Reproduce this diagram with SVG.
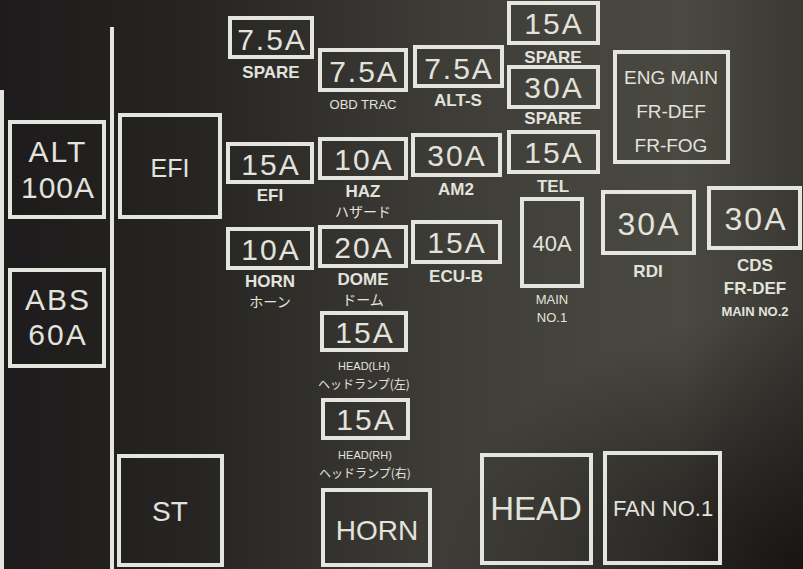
<svg xmlns="http://www.w3.org/2000/svg" width="803" height="569" viewBox="0 0 803 569">
<defs>
<linearGradient id="bg" x1="0" y1="0" x2="1" y2="0">
<stop offset="0" stop-color="#1d1b1b"/>
<stop offset="0.25" stop-color="#272523"/>
<stop offset="0.55" stop-color="#3e3c37"/>
<stop offset="0.85" stop-color="#4a4941"/>
<stop offset="1" stop-color="#3a3833"/>
</linearGradient>
<radialGradient id="shade" cx="1" cy="1" r="0.45">
<stop offset="0" stop-color="#121111" stop-opacity="0.9"/>
<stop offset="1" stop-color="#121111" stop-opacity="0"/>
</radialGradient>
<style>
.box{fill:none;stroke:#e4e5de;stroke-width:4}
.ln{stroke:#e4e5de;stroke-width:4;fill:none}
text{font-family:"Liberation Sans","Noto Sans CJK JP",sans-serif;fill:#e2e3dc;text-anchor:middle}
.amp{font-size:30px;letter-spacing:2px}
.lbl{font-size:17px;font-weight:bold}
.sm{font-size:13px}
.jp{font-size:14px;font-family:"Noto Sans CJK JP",sans-serif}
</style>
</defs>
<rect width="803" height="569" fill="url(#bg)"/>
<rect width="803" height="569" fill="url(#shade)"/>
<g id="connectors">
<line class="ln" x1="112" y1="27" x2="112" y2="569"/>
<line class="ln" x1="2" y1="90" x2="2" y2="569"/>
</g>
<g id="alt"><rect class="box" x="10" y="122" width="94" height="95"/><text class="amp" x="58" y="162">ALT</text><text class="amp" x="58" y="198" style="letter-spacing:1px">100A</text></g>
<g id="abs"><rect class="box" x="10" y="270" width="94" height="96"/><text class="amp" x="58" y="310">ABS</text><text class="amp" x="58" y="345">60A</text></g>
<g id="efi-main"><rect class="box" x="120" y="115" width="100" height="102"/><text x="170" y="177" style="font-size:25px">EFI</text></g>
<g id="st"><rect class="box" x="119" y="456" width="103" height="109"/><text x="170" y="521" style="font-size:28px">ST</text></g>
<g id="spare1"><rect class="box" x="230" y="18" width="82" height="39"/><text class="amp" x="272" y="50">7.5A</text><text class="lbl" x="271" y="78">SPARE</text></g>
<g id="obd"><rect class="box" x="320" y="50" width="86" height="40"/><text class="amp" x="364" y="82">7.5A</text><text class="sm" x="363" y="109">OBD TRAC</text></g>
<g id="alts"><rect class="box" x="415" y="47" width="87" height="39"/><text class="amp" x="459" y="79">7.5A</text><text class="lbl" x="458" y="106">ALT-S</text></g>
<g id="spare2"><rect class="box" x="509" y="3" width="89" height="40"/><text class="amp" x="554" y="34">15A</text><text class="lbl" x="553" y="63">SPARE</text></g>
<g id="spare3"><rect class="box" x="509" y="67" width="89" height="40"/><text class="amp" x="554" y="98">30A</text><text class="lbl" x="553" y="124">SPARE</text></g>
<g id="tel"><rect class="box" x="509" y="132" width="89" height="40"/><text class="amp" x="554" y="163">15A</text><text class="lbl" x="553" y="192">TEL</text></g>
<g id="engmain"><rect class="box" x="615" y="52" width="113" height="110"/><text x="671" y="84" style="font-size:19px">ENG MAIN</text><text x="671" y="118" style="font-size:19px">FR-DEF</text><text x="671" y="152" style="font-size:19px">FR-FOG</text></g>
<g id="efi"><rect class="box" x="228" y="144" width="84" height="38"/><text class="amp" x="271" y="175">15A</text><text class="lbl" x="270" y="201">EFI</text></g>
<g id="haz"><rect class="box" x="320" y="139" width="86" height="39"/><text class="amp" x="364" y="170">10A</text><text class="lbl" x="363" y="197">HAZ</text><text class="jp" x="363" y="217">ハザード</text></g>
<g id="am2"><rect class="box" x="413" y="135" width="87" height="40"/><text class="amp" x="457" y="166">30A</text><text class="lbl" x="456" y="195">AM2</text></g>
<g id="horn"><rect class="box" x="228" y="229" width="84" height="39"/><text class="amp" x="271" y="260">10A</text><text class="lbl" x="270" y="287">HORN</text><text class="jp" x="270" y="307">ホーン</text></g>
<g id="dome"><rect class="box" x="320" y="227" width="86" height="39"/><text class="amp" x="364" y="258">20A</text><text class="lbl" x="363" y="285">DOME</text><text class="jp" x="363" y="305">ドーム</text></g>
<g id="ecub"><rect class="box" x="413" y="222" width="87" height="40"/><text class="amp" x="457" y="253">15A</text><text class="lbl" x="456" y="282">ECU-B</text></g>
<g id="main1"><rect class="box" x="522" y="199" width="60" height="87"/><text x="552" y="251" style="font-size:22px">40A</text><text class="sm" x="552" y="304">MAIN</text><text class="sm" x="552" y="322">NO.1</text></g>
<g id="rdi"><rect class="box" x="603" y="192" width="91" height="61"/><text x="649" y="235" style="font-size:32px;letter-spacing:2px">30A</text><text class="lbl" x="648" y="277">RDI</text></g>
<g id="cds"><rect class="box" x="709" y="188" width="91" height="60"/><text x="756" y="230" style="font-size:32px;letter-spacing:2px">30A</text><text class="lbl" x="755" y="271">CDS</text><text class="lbl" x="755" y="294">FR-DEF</text><text class="sm" x="755" y="316" style="font-weight:bold">MAIN NO.2</text></g>
<g id="headlh"><rect class="box" x="322" y="313" width="84" height="37"/><text class="amp" x="365" y="343">15A</text><text x="364" y="370" style="font-size:11px">HEAD(LH)</text><text class="jp" x="364" y="389" style="font-size:12px">ヘッドランプ(左)</text></g>
<g id="headrh"><rect class="box" x="323" y="400" width="85" height="38"/><text class="amp" x="366" y="430">15A</text><text x="365" y="459" style="font-size:11px">HEAD(RH)</text><text class="jp" x="365" y="478" style="font-size:12px">ヘッドランプ(右)</text></g>
<g id="hornrelay"><rect class="box" x="323" y="490" width="107" height="75"/><text x="377" y="540" style="font-size:28px">HORN</text></g>
<g id="head"><rect class="box" x="482" y="455" width="109" height="108"/><text x="536" y="520" style="font-size:33px">HEAD</text></g>
<g id="fan"><rect class="box" x="605" y="453" width="115" height="110"/><text x="663" y="516" style="font-size:22px">FAN NO.1</text></g>
</svg>
